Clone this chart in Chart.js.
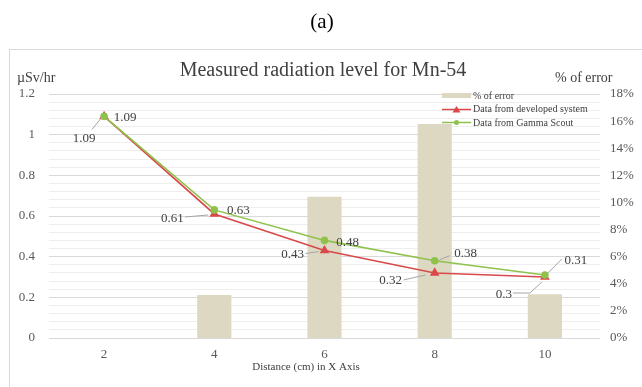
<!DOCTYPE html>
<html>
<head>
<meta charset="utf-8">
<script src="https://cdn.jsdelivr.net/npm/chart.js@4.4.0/dist/chart.umd.min.js"></script>
<style>
html,body{margin:0;padding:0;background:#fff;}
#wrap{position:absolute;left:0;top:0;width:642px;height:387px;}
</style>
</head>
<body>
<div id="wrap"><canvas id="c" width="642" height="387"></canvas></div>
<script>
// ---- data ----
const categories = ['2', '4', '6', '8', '10'];
const developedSystem = [1.09, 0.61, 0.43, 0.32, 0.30];
const gammaScout = [1.09, 0.63, 0.48, 0.38, 0.31];
const percentError = [0, 3.17, 10.42, 15.79, 3.23];
const leftTicks = [0, 0.2, 0.4, 0.6, 0.8, 1, 1.2];
const rightTicks = [0, 2, 4, 6, 8, 10, 12, 14, 16, 18];

const chartTitle = 'Measured radiation level for Mn-54';
const panelLabel = '(a)';
const leftAxisTitle = 'µSv/hr';
const rightAxisTitle = '% of error';
const xAxisTitle = 'Distance (cm) in X Axis';

const SERIF = '"Liberation Serif", "Times New Roman", serif';
const RED = '#D9484A';
const GREEN = '#8FC24C';
const TAN = '#DDD8C2';

// label offsets (styling): label centre relative to point, leader polyline
const redLabelStyle = [
  {dx:-20, dy:22, lead:[[-12,13],[-4,3]]},
  {dx:-42, dy:5, lead:[[-29,3],[-6,1]]},
  {dx:-32, dy:4, lead:[[-19,3],[-6,1]]},
  {dx:-44, dy:8, lead:[[-31,7],[-9,2]]},
  {dx:-41, dy:18, lead:[[-32,16],[-15,16],[-3,5]]}
];
const greenLabelStyle = [
  {dx:21, dy:1, lead:null},
  {dx:24, dy:1, lead:null},
  {dx:23, dy:2, lead:null},
  {dx:31, dy:-7, lead:[[15,-5],[5,-1]]},
  {dx:31, dy:-14, lead:[[17,-16],[3,-2]]}
];

const decorPlugin = {
  id: 'decor',
  beforeDraw(chart) {
    const ctx = chart.ctx;
    ctx.save();
    ctx.fillStyle = '#fff';
    ctx.fillRect(0, 0, chart.width, chart.height);
    ctx.strokeStyle = '#d9d9d9';
    ctx.lineWidth = 1;
    ctx.strokeRect(9.5, 49.5, 640, 345);
    ctx.restore();
  },
  afterDraw(chart) {
    const ctx = chart.ctx;
    ctx.save();
    ctx.textBaseline = 'middle';
    ctx.textAlign = 'center';
    ctx.fillStyle = '#000';
    ctx.font = '21px ' + SERIF;
    ctx.fillText(panelLabel, 322, 22);
    ctx.fillStyle = '#404040';
    ctx.font = '20px ' + SERIF;
    ctx.fillText(chartTitle, 323, 71);
    ctx.font = '14px ' + SERIF;
    ctx.textAlign = 'left';
    ctx.fillText(leftAxisTitle, 17, 78);
    ctx.fillText(rightAxisTitle, 555, 78);
    ctx.textAlign = 'center';
    ctx.font = '11px ' + SERIF;
    ctx.fillText(xAxisTitle, 306, 367);

    // legend
    ctx.font = '10px ' + SERIF;
    ctx.textAlign = 'left';
    const lx = 442, tx = 473;
    ctx.fillStyle = TAN;
    ctx.fillRect(lx, 93, 29, 5);
    ctx.fillStyle = '#404040';
    ctx.fillText(chart.data.datasets[2].label, tx, 96);
    ctx.strokeStyle = RED; ctx.lineWidth = 1.5;
    ctx.beginPath(); ctx.moveTo(lx, 109.5); ctx.lineTo(lx + 29, 109.5); ctx.stroke();
    ctx.fillStyle = RED;
    ctx.beginPath(); ctx.moveTo(lx + 14.5, 106); ctx.lineTo(lx + 18.5, 112.5); ctx.lineTo(lx + 10.5, 112.5); ctx.closePath(); ctx.fill();
    ctx.fillStyle = '#404040';
    ctx.fillText(chart.data.datasets[0].label, tx, 109);
    ctx.strokeStyle = GREEN;
    ctx.beginPath(); ctx.moveTo(lx, 122.5); ctx.lineTo(lx + 29, 122.5); ctx.stroke();
    ctx.fillStyle = GREEN;
    ctx.beginPath(); ctx.arc(lx + 14.5, 122.5, 2.5, 0, Math.PI * 2); ctx.fill();
    ctx.fillStyle = '#404040';
    ctx.fillText(chart.data.datasets[1].label, tx, 123);

    // data labels
    ctx.font = '13px ' + SERIF;
    ctx.textAlign = 'center';
    const drawLabels = (dsIndex, values, styles) => {
      const meta = chart.getDatasetMeta(dsIndex);
      meta.data.forEach((pt, i) => {
        const s = styles[i];
        const x = pt.x, y = pt.y;
        if (s.lead) {
          ctx.strokeStyle = '#a6a6a6';
          ctx.lineWidth = 1;
          ctx.beginPath();
          s.lead.forEach((p, k) => {
            if (k === 0) ctx.moveTo(x + p[0], y + p[1]); else ctx.lineTo(x + p[0], y + p[1]);
          });
          ctx.stroke();
        }
        ctx.fillStyle = '#404040';
        ctx.fillText(String(values[i]), x + s.dx, y + s.dy);
      });
    };
    drawLabels(0, developedSystem, redLabelStyle);
    drawLabels(1, gammaScout, greenLabelStyle);
    ctx.restore();
  }
};

const isMajor = v => Math.abs(v / 0.2 - Math.round(v / 0.2)) < 1e-6;

new Chart(document.getElementById('c'), {
  data: {
    labels: categories,
    datasets: [
      {
        type: 'line', label: 'Data from developed system', data: developedSystem,
        borderColor: RED, backgroundColor: RED, borderWidth: 1.6,
        pointStyle: 'triangle', pointRadius: 4, pointHoverRadius: 4,
        tension: 0, yAxisID: 'y', order: 2
      },
      {
        type: 'line', label: 'Data from Gamma Scout', data: gammaScout,
        borderColor: GREEN, backgroundColor: GREEN, borderWidth: 1.6,
        pointStyle: 'circle', pointRadius: 3, pointHoverRadius: 3,
        tension: 0, yAxisID: 'y', order: 1
      },
      {
        type: 'bar', label: '% of error', data: percentError,
        backgroundColor: TAN, borderWidth: 0,
        barPercentage: 0.31, categoryPercentage: 1,
        yAxisID: 'y1', order: 3
      }
    ]
  },
  options: {
    responsive: false,
    animation: false,
    layout: { padding: { top: 94, left: 0, right: 0, bottom: 0 } },
    plugins: { legend: { display: false }, title: { display: false }, tooltip: { enabled: false } },
    scales: {
      x: {
        type: 'category', offset: true,
        grid: { display: false, drawTicks: false },
        border: { display: false },
        ticks: { color: '#595959', font: { family: SERIF, size: 13 }, padding: 9 },
        afterFit(scale) { scale.height = 49; }
      },
      y: {
        position: 'left', min: 0, max: 1.2,
        afterBuildTicks(scale) {
          const t = [];
          for (let i = 0; i <= 30; i++) t.push({ value: Math.round(i * 0.04 * 100) / 100 });
          scale.ticks = t;
        },
        ticks: {
          autoSkip: false,
          color: '#595959', font: { family: SERIF, size: 13 }, padding: 14,
          callback: v => (leftTicks.some(t => Math.abs(t - v) < 1e-6) ? String(v) : '')
        },
        grid: {
          drawTicks: false,
          color: ctx => (isMajor(ctx.tick.value) ? '#d9d9d9' : '#eeeeee'),
          lineWidth: 1
        },
        border: { display: false },
        afterFit(scale) { scale.width = 49; }
      },
      y1: {
        position: 'right', min: 0, max: 18,
        afterBuildTicks(scale) { scale.ticks = rightTicks.map(v => ({ value: v })); },
        ticks: { autoSkip: false, color: '#595959', font: { family: SERIF, size: 13 }, padding: 10, callback: v => v + '%' },
        grid: { display: false, drawTicks: false },
        border: { display: false },
        afterFit(scale) { scale.width = 42; }
      }
    }
  },
  plugins: [decorPlugin]
});
</script>
</body>
</html>
